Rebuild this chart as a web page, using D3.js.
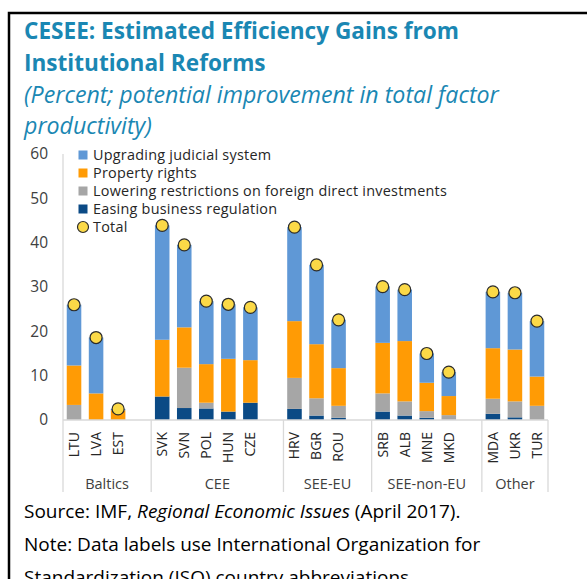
<!DOCTYPE html>
<html><head><meta charset="utf-8">
<script src="https://cdn.jsdelivr.net/npm/d3@7"></script>
<style>
html,body{margin:0;padding:0;background:#fff;overflow:hidden;}
svg{display:block;}
text{font-family:"Open Sans","Noto Sans",sans-serif;}
</style></head>
<body>
<script>
// ---- data ----
const groups = ["Baltics","CEE","SEE-EU","SEE-non-EU","Other"];
const countries = ["LTU","LVA","EST","SVK","SVN","POL","HUN","CZE","HRV","BGR","ROU","SRB","ALB","MNE","MKD","MDA","UKR","TUR"];
const countryGroup = ["Baltics","Baltics","Baltics","CEE","CEE","CEE","CEE","CEE","SEE-EU","SEE-EU","SEE-EU","SEE-non-EU","SEE-non-EU","SEE-non-EU","SEE-non-EU","Other","Other","Other"];
const business = [0,0,0,5.3,2.7,2.6,1.9,3.9,2.5,1.0,0.5,1.9,1.0,0.5,0,1.4,0.6,0];
const fdi      = [3.4,0,0,0,9.1,1.3,0,0,7.0,3.9,2.7,4.1,3.2,1.5,1.1,3.4,3.6,3.2];
const property = [8.9,6.0,2.2,12.8,9.1,8.7,11.9,9.6,12.8,12.2,8.5,11.4,13.6,6.4,4.3,11.4,11.7,6.6];
const judicial = [13.7,12.6,0.3,25.8,18.6,14.2,12.3,11.9,21.2,17.9,10.9,12.7,11.6,6.6,5.4,12.7,12.8,12.5];
const total    = [26.0,18.6,2.5,43.9,39.5,26.8,26.1,25.4,43.5,35.0,22.6,30.1,29.4,15.0,10.8,28.9,28.7,22.3];
const yTicks = [0,10,20,30,40,50,60];
const seriesNames = ["Upgrading judicial system","Property rights","Lowering restrictions on foreign direct investments","Easing business regulation"];
const seriesKeys = ["business","fdi","property","judicial"];
const colors = {judicial:"#5f98d6", property:"#ff9b05", fdi:"#a6a6a6", business:"#0b4a85"};
const titleLines = ["CESEE: Estimated Efficiency Gains from","Institutional Reforms"];
const subtitleLines = ["(Percent; potential improvement in total factor","productivity)"];

const W = 587, H = 579;
const svg = d3.select("body").append("svg").attr("width",W).attr("height",H);

// frame
svg.append("rect").attr("x",9).attr("y",13).attr("width",W+20).attr("height",H+20)
  .attr("fill","none").attr("stroke","#000").attr("stroke-width",2.5);

const teal = "#1a87b3";
titleLines.forEach((t,i)=>svg.append("text").attr("x",24).attr("y",39+i*32)
  .attr("fill",teal).attr("font-size",22.6).attr("font-weight","bold").text(t));
subtitleLines.forEach((t,i)=>svg.append("text").attr("x",24).attr("y",103+i*31)
  .attr("fill",teal).attr("font-size",23.2).attr("font-style","italic").text(t));

// rows
const rows = countries.map((c,i)=>({key:c, group:countryGroup[i], business:business[i], fdi:fdi[i], property:property[i], judicial:judicial[i], total:total[i]}));

// domain with gap slots between groups
const domain = [];
groups.forEach((g,gi)=>{
  rows.filter(r=>r.group===g).forEach(r=>domain.push(r.key));
  if(gi<groups.length-1) domain.push("gap-"+g);
});

const x0 = 63, x1 = 548, yBase = 420, yTop = 154, yBottom = 492;
const x = d3.scaleBand().domain(domain).range([x0,x1]).paddingInner(0.34).paddingOuter(0.17);
const y = d3.scaleLinear().domain([0,60]).range([yBase,yTop]);

const axisColor = "#d9d9d9";
// y axis
const yAxis = svg.append("g").attr("transform",`translate(${x0},0)`)
  .call(d3.axisLeft(y).tickValues(yTicks).tickSize(0).tickPadding(15));
yAxis.select(".domain").remove();
yAxis.selectAll("text").attr("font-size",15.5).attr("fill","#404040")
  .attr("font-family","'Open Sans','Noto Sans',sans-serif");
svg.append("line").attr("x1",x0).attr("x2",x0).attr("y1",yTop).attr("y2",yBottom)
  .attr("stroke",axisColor).attr("stroke-width",1.3);

// bars
const stack = d3.stack().keys(seriesKeys)(rows);
svg.append("g").selectAll("g").data(stack).join("g")
  .attr("fill",d=>colors[d.key])
  .selectAll("rect").data(d=>d).join("rect")
  .attr("x",d=>x(d.data.key)).attr("width",x.bandwidth())
  .attr("y",d=>y(d[1])).attr("height",d=>Math.max(0,y(d[0])-y(d[1])));

// baseline and group separators
svg.append("line").attr("x1",x0).attr("x2",x1).attr("y1",yBase).attr("y2",yBase)
  .attr("stroke",axisColor).attr("stroke-width",1.3);
const step = x.step();
const groupBounds = groups.map((g,gi)=>{
  const keys = rows.filter(r=>r.group===g).map(r=>r.key);
  const start = x(keys[0]) - x.paddingOuter()*step;
  const endKey = gi<groups.length-1 ? "gap-"+g : keys[keys.length-1];
  const end = x(endKey) - x.paddingOuter()*step + step;
  return {g,start,end};
});
groupBounds.forEach(b=>{
  svg.append("line").attr("x1",b.end).attr("x2",b.end).attr("y1",yBase).attr("y2",yBottom)
    .attr("stroke",axisColor).attr("stroke-width",1.3);
  svg.append("text").attr("x",(b.start+b.end)/2).attr("y",489).attr("text-anchor","middle")
    .attr("font-size",14.5).attr("fill","#404040").text(b.g);
});

// country labels
rows.forEach(r=>{
  const cx = x(r.key)+x.bandwidth()/2;
  svg.append("text").attr("transform",`translate(${cx},432) rotate(-90)`)
    .attr("text-anchor","end").attr("dy","0.35em").attr("font-size",14)
    .attr("fill","#262626").text(r.key);
});

// total markers
svg.append("g").selectAll("circle").data(rows).join("circle")
  .attr("cx",d=>x(d.key)+x.bandwidth()/2).attr("cy",d=>y(d.total)).attr("r",6)
  .attr("fill","#fbd947").attr("stroke","#2b2b2b").attr("stroke-width",1.2);

// legend
const legendItems = [
  {name:seriesNames[0], key:"judicial"},
  {name:seriesNames[1], key:"property"},
  {name:seriesNames[2], key:"fdi"},
  {name:seriesNames[3], key:"business"},
  {name:"Total", key:"total"}
];
legendItems.forEach((it,i)=>{
  const cy = 155 + i*18;
  if(it.key==="total"){
    svg.append("circle").attr("cx",83).attr("cy",cy).attr("r",5.5)
      .attr("fill","#fbd947").attr("stroke","#2b2b2b").attr("stroke-width",1.2);
  } else {
    svg.append("rect").attr("x",78.5).attr("y",cy-4.5).attr("width",9).attr("height",9).attr("fill",colors[it.key]);
  }
  svg.append("text").attr("x",93).attr("y",cy).attr("dy","0.35em").attr("font-size",14.4)
    .attr("letter-spacing",0.25)
    .attr("fill","#262626").text(it.name);
});

// notes
const noteY = [518,551,584];
const noteSize = 19;
const n1 = svg.append("text").attr("x",24).attr("y",noteY[0]).attr("font-size",noteSize).attr("fill","#000");
n1.append("tspan").text("Source: IMF, ");
n1.append("tspan").attr("font-style","italic").text("Regional Economic Issues");
n1.append("tspan").text(" (April 2017).");
svg.append("text").attr("x",24).attr("y",noteY[1]).attr("font-size",noteSize).attr("fill","#000")
  .text("Note: Data labels use International Organization for");
svg.append("text").attr("x",24).attr("y",noteY[2]).attr("font-size",noteSize).attr("fill","#000")
  .text("Standardization (ISO) country abbreviations.");
</script>
</body></html>
